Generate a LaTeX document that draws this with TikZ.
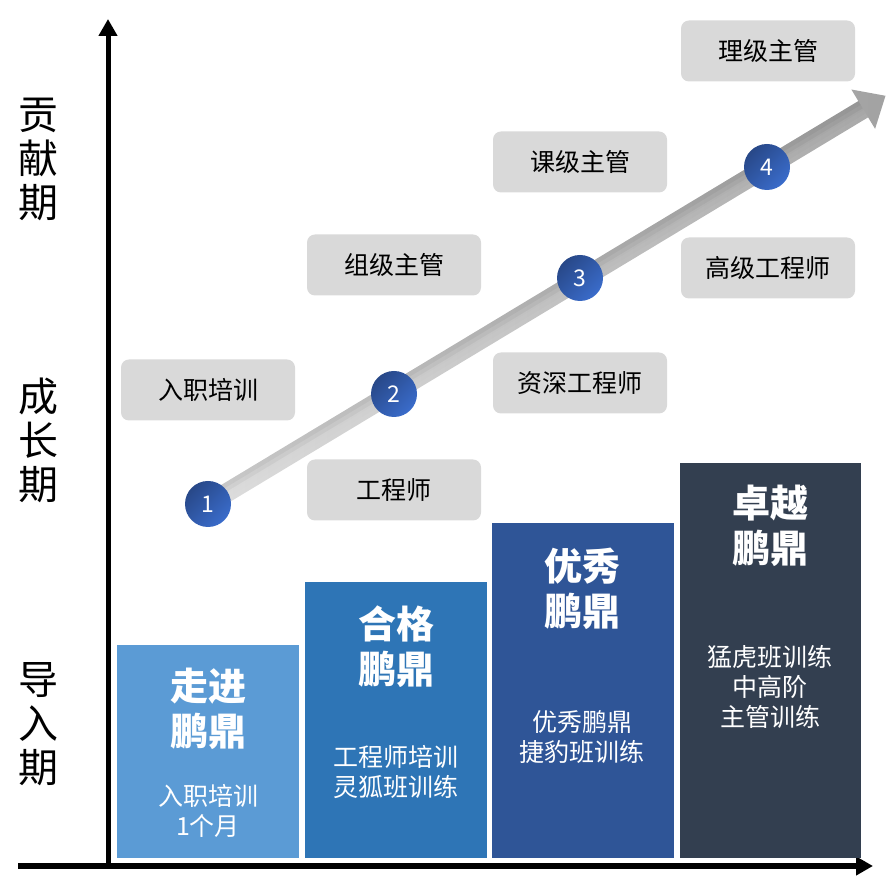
\documentclass[tikz,border=0pt]{standalone}
\usepackage{fontspec}
\setmainfont{Noto Sans CJK SC}
\usetikzlibrary{arrows.meta,calc}
\definecolor{barA}{HTML}{5B9BD5}
\definecolor{barB}{HTML}{2E75B6}
\definecolor{barC}{HTML}{2F5597}
\definecolor{barD}{HTML}{333F50}
\definecolor{boxgray}{HTML}{D9D9D9}
\definecolor{circdark}{HTML}{284888}
\definecolor{circlight}{HTML}{3A6CCB}
\definecolor{arrlight}{HTML}{DCDCDC}
\definecolor{arrmid}{HTML}{CDCDCD}
\definecolor{arrdark}{HTML}{A2A2A2}
\begin{document}
\begin{tikzpicture}[x=1pt,y=1pt,
  axis/.style={draw=black, -{Triangle[length=17pt,width=18pt]}},
  grbox/.style={fill=boxgray, rounded corners=8pt, minimum width=174pt, minimum height=61pt, inner sep=0pt, text=black, font=\fontsize{25}{30}\selectfont},
  barbox/.style={anchor=south west, inner sep=0pt, draw=none},
  bartitle/.style={text=white, align=center, font=\fontsize{38}{45}\selectfont\bfseries},
  barsub/.style={text=white, align=center, font=\fontsize{25}{30}\selectfont},
  ylab/.style={align=center, text=black, font=\fontsize{40}{44}\selectfont},
  stepcirc/.style={circle, minimum size=46pt, inner sep=0pt, top color=circdark, bottom color=circlight, shading angle=45, text=white, font=\fontsize{23}{23}\selectfont},
  shadeband/.style={opacity=0.045}
]
\useasboundingbox (0,0) rectangle (887,886);

% axes
\coordinate (yb) at (108,20);
\coordinate (yt) at (108,867);
\coordinate (xl) at (18,20);
\coordinate (xr) at (873,20);
\draw[axis, line width=5pt] (yb) -- (yt);
\draw[axis, line width=6pt] (xl) -- (xr);

% axis labels
\node[ylab] (lab1) at (39,727) {贡\\献\\期};
\node[ylab] (lab2) at (39,446) {成\\长\\期};
\node[ylab] (lab3) at (39,162) {导\\入\\期};

% bars
\node[barbox, fill=barA, minimum width=182pt, minimum height=213pt] (bar1) at (117,28) {};
\node[barbox, fill=barB, minimum width=182pt, minimum height=276pt] (bar2) at (305,28) {};
\node[barbox, fill=barC, minimum width=182pt, minimum height=335pt] (bar3) at (492,28) {};
\node[barbox, fill=barD, minimum width=181pt, minimum height=395pt] (bar4) at (680,28) {};

\node[bartitle] (t1) at (208,177.5) {走进\\鹏鼎};
\node[barsub] (s1) at (208,75) {入职培训\\1个月};
\node[bartitle] (t2) at (396,239) {合格\\鹏鼎};
\node[barsub] (s2) at (396,114) {工程师培训\\灵狐班训练};
\node[bartitle] (t3) at (582,297) {优秀\\鹏鼎};
\node[barsub] (s3) at (582,149) {优秀鹏鼎\\捷豹班训练};
\node[bartitle] (t4) at (770,360.5) {卓越\\鹏鼎};
\node[barsub] (s4) at (770,199) {猛虎班训练\\中高阶\\主管训练};

% grey boxes
\node[grbox] (b1) at (208,496) {入职培训};
\node[grbox] (b2) at (394,396) {工程师};
\node[grbox] (b3) at (394,621) {组级主管};
\node[grbox] (b4) at (580,503) {资深工程师};
\node[grbox] (b5) at (580,724) {课级主管};
\node[grbox] (b6) at (768,618) {高级工程师};
\node[grbox] (b7) at (768,835) {理级主管};

% growth arrow (drawn in its own rotated frame)
\coordinate (as) at (208,382);
\coordinate (at) at (885,790);
\begin{scope}[shift={(as)}, rotate=31.07]
  \shade[left color=arrlight, middle color=arrmid, right color=arrdark]
    (0,-9.5) -- (765,-9.5) -- (765,-23) -- (791,0) -- (765,23) -- (765,9.5) -- (0,9.5) -- cycle;
  % cross-wise shading of the shaft: darker upper edge, lighter lower edge
  \fill[black, shadeband] (0,1) rectangle (765,9.5);
  \fill[black, shadeband] (0,5) rectangle (765,9.5);
  \fill[white, shadeband] (0,-9.5) rectangle (765,-1);
  \fill[white, shadeband] (0,-9.5) rectangle (765,-5);
\end{scope}

% step circles
\node[stepcirc] (c1) at (208,382) {1};
\node[stepcirc] (c2) at (394,492) {2};
\node[stepcirc] (c3) at (580,608) {3};
\node[stepcirc] (c4) at (767,719) {4};
\end{tikzpicture}
\end{document}
